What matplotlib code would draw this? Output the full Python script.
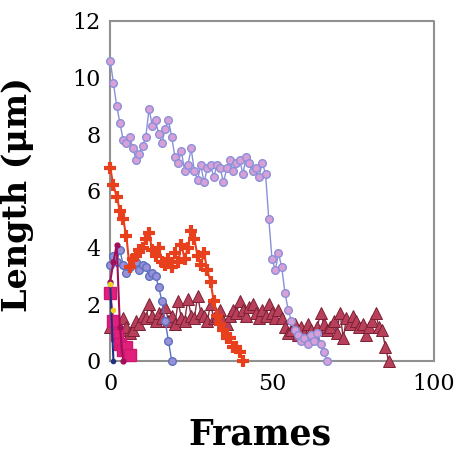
import matplotlib.pyplot as plt

# lavender trace (longest filament)
lav_y = [10.6, 9.8, 9.0, 8.4, 7.8, 7.7, 7.9, 7.5, 7.1, 7.3,
         7.6, 7.9, 8.9, 8.3, 8.5, 8.0, 7.7, 8.2, 8.5, 7.9,
         7.2, 7.0, 7.4, 6.7, 6.9, 7.5, 6.7, 6.4, 6.9, 6.3,
         6.8, 6.9, 6.5, 6.9, 6.8, 6.3, 6.8, 7.1, 6.7, 7.0,
         7.1, 6.6, 7.2, 7.0, 6.7, 6.8, 6.5, 7.0, 6.6, 5.0,
         3.6, 3.2, 3.8, 3.3, 2.4, 1.8, 1.4, 1.1, 0.9, 0.7,
         0.8, 0.6, 0.9, 0.7, 1.0, 0.6, 0.3, 0.0]
lav_x = list(range(len(lav_y)))

red_y = [6.8, 6.2, 5.8, 5.3, 5.0, 4.4, 3.3, 3.6, 3.7, 3.9,
         4.0, 4.3, 4.5, 3.9, 3.7, 4.0, 3.5, 3.4, 3.6, 3.3,
         3.8, 3.5, 4.1, 3.6, 4.0, 4.6, 4.3, 3.7, 3.4, 3.8,
         3.2, 2.8, 2.1, 1.6, 1.3, 1.1, 0.8, 0.8, 0.5, 0.5,
         0.3, 0.0]
red_x = list(range(len(red_y)))

tri_y = [1.2, 1.4, 1.3, 1.1, 1.5, 1.2, 1.0, 1.1, 1.4, 1.3,
         1.6, 1.5, 2.0, 1.6, 1.4, 1.7, 1.5, 1.9, 1.4, 1.6,
         1.3, 2.1, 1.5, 1.4, 2.2, 1.6, 1.5, 2.3, 1.7, 1.6,
         1.4, 2.0, 1.5, 1.6, 1.8, 1.4, 1.3, 1.6, 1.8, 1.7,
         2.1, 1.8, 1.6, 1.9, 2.0, 1.7, 1.5, 1.8, 1.6, 2.0,
         1.7, 1.5, 1.8, 1.5, 1.2, 1.0, 1.1, 1.3, 0.9, 1.2,
         1.0, 1.3, 1.1, 0.9, 1.2, 1.7, 1.3, 1.1, 1.2, 1.4,
         1.0, 1.7, 0.8, 1.5, 1.3, 1.6, 1.4, 1.2, 1.3, 0.9,
         1.2, 1.4, 1.7, 1.2, 1.1, 0.5, 0.0]
tri_x = list(range(len(tri_y)))

blue_y = [3.4, 3.7, 3.5, 3.9, 3.4, 3.1, 3.3, 3.6, 3.5, 3.2,
          3.4, 3.3, 3.0, 3.1, 3.0, 2.6, 2.1, 1.4, 0.7, 0.0]
blue_x = list(range(len(blue_y)))

mag_x = [0, 1, 2, 3, 4, 5, 6]
mag_y = [2.4, 1.4, 0.9, 0.6, 0.4, 0.5, 0.2]

crim_x = [0, 1, 2, 3, 4]
crim_y = [2.8, 3.5, 4.1, 1.2, 0.0]

navy_x = [0, 1]
navy_y = [2.7, 0.0]

yel_x = [0, 1]
yel_y = [2.7, 1.8]

x_ticks = [0, 50, 100]
y_ticks = [0, 2, 4, 6, 8, 10, 12]

fig = plt.figure(figsize=(4.65, 4.54), dpi=100)
ax = fig.add_axes([0.237, 0.205, 0.696, 0.749])

ax.plot(tri_x, tri_y, color='#8a2a40', lw=1.0, marker='^', ms=8,
        mfc='#b8405a', mec='#7a2035', mew=0.7, clip_on=False, zorder=3)
ax.plot(lav_x, lav_y, color='#8a90d8', lw=1.0, marker='o', ms=5.5,
        mfc='#d9a0d8', mec='#8a90d8', mew=1.0, clip_on=False, zorder=4)
ax.plot(blue_x, blue_y, color='#5a70c0', lw=1.0, marker='o', ms=5.5,
        mfc='#9a90d8', mec='#5a70c0', mew=1.0, clip_on=False, zorder=4)
ax.plot(red_x, red_y, color='#e8401c', lw=1.5, marker='+', ms=9,
        mew=3, mec='#e8401c', clip_on=False, zorder=5)
ax.plot(mag_x, mag_y, color='#e0207a', lw=1.5, marker='s', ms=8,
        mfc='#e0207a', mec='#d01870', clip_on=False, zorder=6)
ax.plot(crim_x, crim_y, color='#a0105a', lw=1.5, marker='o', ms=3.5,
        mfc='#a0105a', mec='#a0105a', clip_on=False, zorder=6)
ax.plot(navy_x, navy_y, color='#203080', lw=1.5, marker='o', ms=3,
        clip_on=False, zorder=7)
ax.plot(yel_x, yel_y, color='#f0d020', lw=0, marker='o', ms=3,
        clip_on=False, zorder=7)

ax.set_xlim(0, 100)
ax.set_ylim(0, 12)
ax.set_xticks(x_ticks)
ax.set_yticks(y_ticks)
ax.tick_params(length=0, labelsize=16, pad=7)
for lab in ax.get_xticklabels() + ax.get_yticklabels():
    lab.set_family('DejaVu Serif')
ax.tick_params(axis='x', pad=9)

for sp in ax.spines.values():
    sp.set_color('#909090')
    sp.set_linestyle((0, (1, 1)))
    sp.set_linewidth(1.5)

ax.set_xlabel('Frames', family='DejaVu Serif', fontweight='bold',
              fontsize=25)
ax.set_ylabel('Length (μm)', family='DejaVu Serif', fontweight='bold',
              fontsize=24)
ax.xaxis.set_label_coords(0.463, -0.165)
ax.yaxis.set_label_coords(-0.235, 0.49)

fig.savefig('out.png', dpi=100)
